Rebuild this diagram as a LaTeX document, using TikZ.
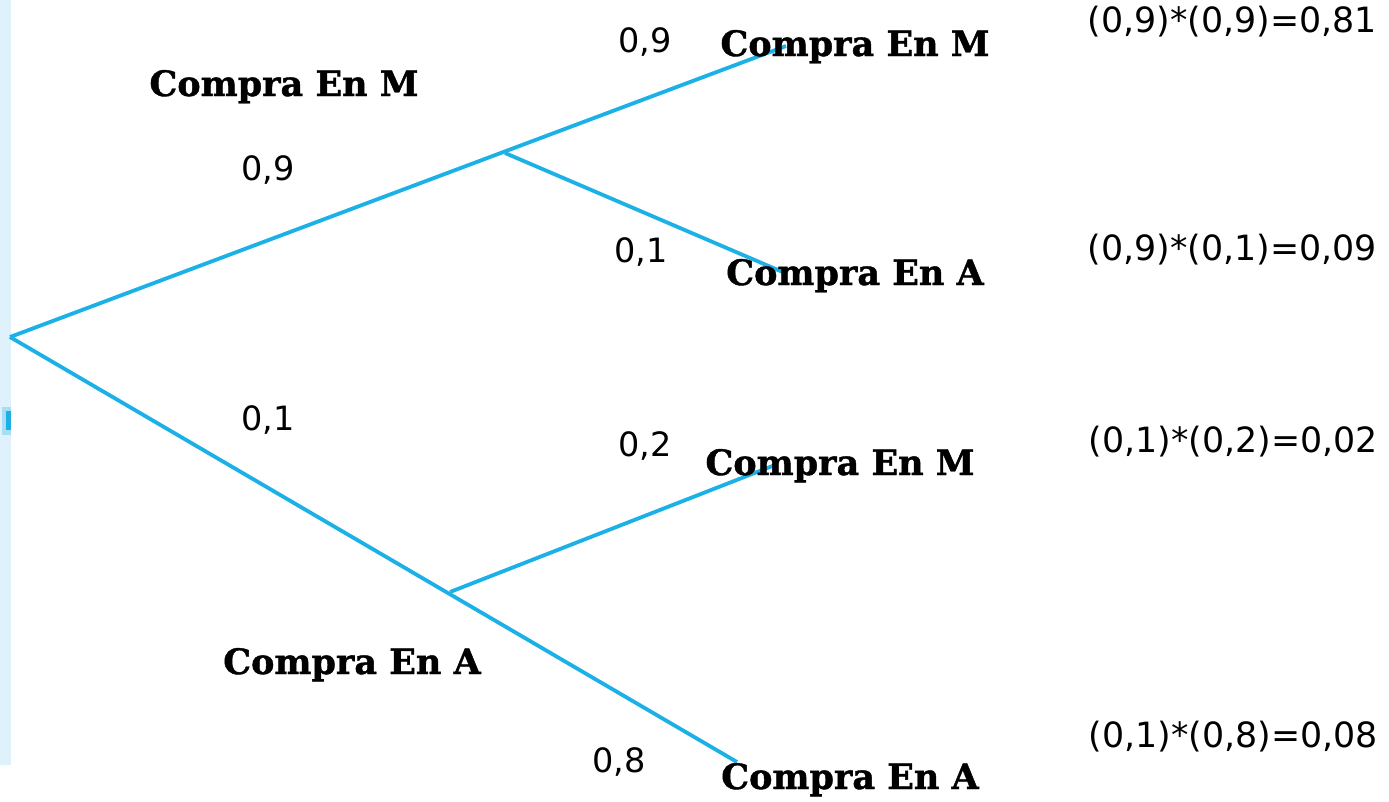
\documentclass[tikz,border=0pt]{standalone}
\usepackage{fontspec}
\newfontfamily\slabfont[BoldFeatures={FakeBold=1.2}]{DejaVu Serif}
\newfontfamily\numfont{DejaVu Sans}
\definecolor{branch}{HTML}{1BB0E6}
\definecolor{strip}{HTML}{DFF1FB}
\definecolor{halo}{HTML}{A9DDF4}
\tikzset{
  conn/.style={draw=branch, line width=3.8pt},
  evt/.style={inner sep=0pt, anchor=base, font=\slabfont\bfseries\fontsize{35}{40}\selectfont},
  prob/.style={inner sep=0pt, anchor=base, font=\numfont\fontsize{33.5}{38}\selectfont},
  res/.style={inner sep=0pt, anchor=base east, font=\numfont\fontsize{34.8}{40}\selectfont}
}
\begin{document}
\begin{tikzpicture}[x=1pt, y=-1pt]
\useasboundingbox (0,0) rectangle (1389,801);
\fill[strip] (0,0) rectangle (11,765);
\fill[halo] (2,407) rectangle (11,435);
\fill[branch] (6,411) rectangle (11,430);
% coordinates
\coordinate (r) at (10,337);
\coordinate (b1) at (505,153);
\coordinate (mm) at (786,46);
\coordinate (ma) at (785,273);
\coordinate (b2) at (450,592);
\coordinate (am) at (775,465);
\coordinate (aa) at (737,762);
\draw[conn] (r) -- (mm);
\draw[conn] (b1) -- (ma);
\draw[conn] (r) -- (aa);
\draw[conn] (b2) -- (am);
% labels
\node[evt] (eM) at (284,96) {Compra En M};
\node[evt] (eA) at (352,674) {Compra En A};
\node[prob] (p1) at (268,180) {0,9};
\node[prob] (p2) at (268,430) {0,1};
\node[prob] (p3) at (645,52) {0,9};
\node[prob] (p4) at (641,262) {0,1};
\node[prob] (p5) at (645,456) {0,2};
\node[prob] (p6) at (619,772) {0,8};
\node[evt] (eMM) at (855,56) {Compra En M};
\node[evt] (eMA) at (855,285) {Compra En A};
\node[evt] (eAM) at (840,475) {Compra En M};
\node[evt] (eAA) at (850,789) {Compra En A};
\node[res] (r1) at (1377,32) {(0,9)*(0,9)=0,81};
\node[res] (r2) at (1377,260) {(0,9)*(0,1)=0,09};
\node[res] (r3) at (1378,452) {(0,1)*(0,2)=0,02};
\node[res] (r4) at (1378,747) {(0,1)*(0,8)=0,08};
\end{tikzpicture}
\end{document}
